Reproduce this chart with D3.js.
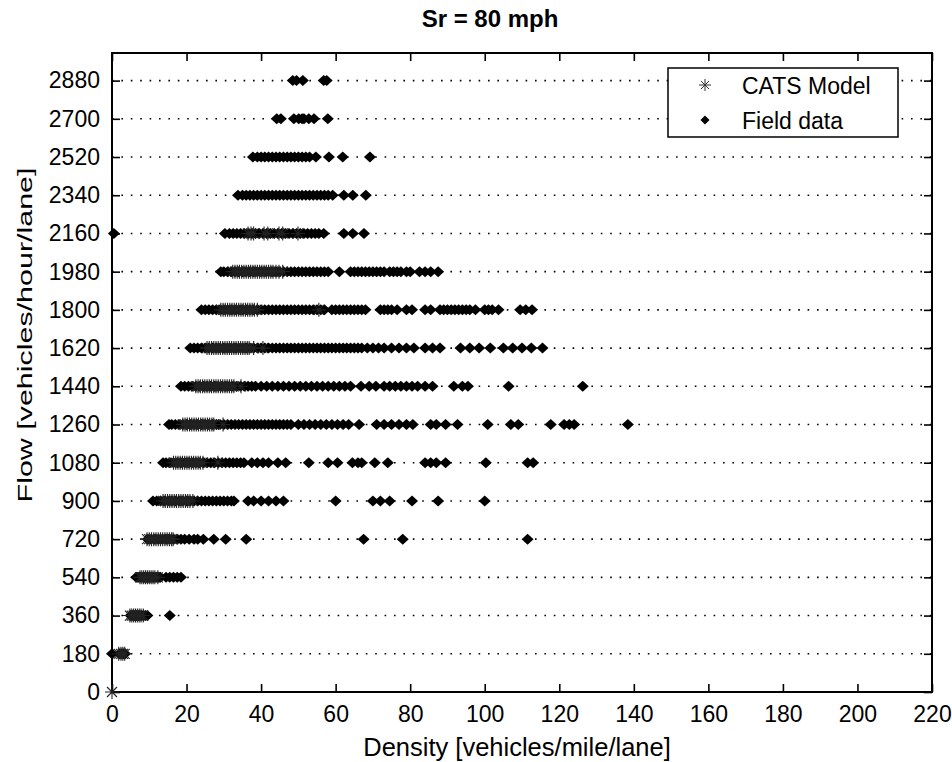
<!DOCTYPE html>
<html>
<head>
<meta charset="utf-8">
<script src="https://cdn.jsdelivr.net/npm/d3@7"></script>
<style>
  body { margin: 0; background: #fff; }
  text { font-family: "Liberation Sans", Arial, sans-serif; fill: #000; }
</style>
</head>
<body>
<svg width="952" height="762"></svg>
<script>
// flow levels (y ticks)
const flowTicks = [0, 180, 360, 540, 720, 900, 1080, 1260, 1440, 1620, 1800, 1980, 2160, 2340, 2520, 2700, 2880];
const densityTicks = [0, 20, 40, 60, 80, 100, 120, 140, 160, 180, 200, 220];

// field data densities, one array per flow level
const field180 = [0, 2, 2.5, 3, 3.5];
const field360 = [5, 5.5, 6, 6.5, 7, 7.5, 8, 8.5, 9, 9.5, 15.5];
const field540 = [6.5, 7, 7.5, 8, 8.5, 9, 9.5, 10, 10.5, 11, 11.5, 12, 12.5, 13, 14.5, 15.5, 16.5, 17.5, 18.5];
const field720 = [9.6, 10.5, 11.5, 12.5, 13.5, 14.5, 15.5, 16.5, 17.5, 18.5, 19.5, 20.7, 22, 23, 24.5, 27.3, 30.5, 36, 67.5, 78, 111.5];
const field900 = [11, 12, 13, 14, 15, 16, 17, 18, 19, 20, 21, 22, 23, 24, 25, 26, 27, 28, 29, 30, 31, 32, 32.7,
  36.5, 38, 40, 42, 44, 46, 60, 70, 72, 74.5, 80.5, 87.5, 100];
const field1080 = [13.7, 14.5, 15.5, 16.5, 17.5, 18.5, 19.5, 20.5, 21.5, 22.5, 23.5, 24.5, 25.5, 26.5, 27.5, 28.5,
  29.5, 30.5, 31.5, 32.5, 33.5, 34.5, 35.4, 37.5, 39, 40.5, 42, 44.5, 46.6, 52.8, 58, 60.5, 64.5, 66, 67,
  70.5, 74, 84, 85.5, 87, 89.5, 100.3, 111.5, 113];
const field1260 = [15.3, 16, 17, 18, 19, 20, 21, 22, 23, 24, 25, 26, 27, 28, 29, 30, 31, 32, 33, 34, 35, 36, 37,
  38, 39, 40, 41, 42, 43, 44, 45, 46, 47, 48, 50, 51.5, 53, 54.5, 56, 57.5, 59, 60.5, 62, 63.5, 66.3, 71,
  73, 75, 77, 79, 80.7, 85.5, 87, 89.5, 92.7, 100.8, 107, 109, 117.7, 121.3, 122.7, 124, 138.4];
const field1440 = [18.5, 19.5, 20.5, 21.5, 22.5, 23.5, 24.5, 25.5, 26.5, 27.5, 28.5, 29.5, 30.5, 31.5, 32.5, 33.5,
  34.5, 35.5, 36.5, 37.5, 38.5, 40, 41.5, 43, 44.5, 46, 47.5, 49, 50.5, 52, 53.5, 55, 56.5, 58, 59.5, 61, 62.5,
  64, 66.8, 69, 70.8, 73, 74.5, 76, 77.5, 79, 80.5, 82, 84, 86, 91.7, 94, 95.5, 106.4, 126.3];
const field1620 = [21, 22, 23, 24, 25, 26, 27, 28, 29, 30, 31, 32, 33, 34, 35, 36, 37, 38, 39, 40, 41, 42, 43, 44,
  45, 46, 47, 48, 49, 50, 51, 52, 53, 54, 55, 56, 57, 58, 59, 60, 61, 62, 63, 64, 65, 66, 67, 68.5, 70, 71.5,
  73, 75, 77, 79, 81, 84, 86, 88, 93.5, 96, 98.5, 101.5, 105, 107.5, 110, 112.5, 115.5];
const field1800 = [24, 25, 26, 27, 28, 29, 30, 31, 32, 33, 34, 35, 36, 37, 38, 39, 40, 41, 42, 43, 44, 45, 46,
  47, 48, 49, 50, 51, 52, 53, 54, 55, 56, 57, 59, 60, 61, 62, 63, 64, 65, 66, 67, 68, 72, 73, 74, 75, 76.5,
  79, 80.5, 84, 85.5, 88, 89, 90, 91, 92, 93, 94, 95, 96, 97.5, 100, 101, 102, 103.7, 109.5, 111, 112.7];
const field1980 = [29.2, 30, 31, 32, 33, 34, 35, 36, 37, 38, 39, 40, 41, 42, 43, 44, 45, 46, 47, 48, 49, 50, 51,
  52, 53, 54, 55, 56, 57, 58, 61, 64, 65, 66, 67, 68, 69, 70, 71, 72, 73, 74.5, 75.5, 76.5, 77.5, 79, 80,
  82.5, 84, 85.5, 87.5];
const field2160 = [0.5, 30.3, 31.5, 32.5, 33.5, 34.5, 35.5, 36.5, 37.5, 38.5, 39.5, 40.5, 41.5, 42.5, 43.5, 44.5,
  45.5, 46.5, 47.5, 48.5, 49.5, 50.5, 51.5, 52.5, 53.5, 54.5, 55.5, 56.8, 62.2, 64.6, 67.6];
const field2340 = [33.8, 35, 36, 37, 38, 39, 40, 41, 42, 43, 44, 45, 46, 47, 48, 49, 50, 51, 52, 53, 54, 55, 56,
  57, 58, 59.2, 62.2, 64.6, 68.1];
const field2520 = [37.8, 39, 40, 41, 42, 43, 44, 45, 46, 47, 48, 49, 50, 51, 52, 53, 54.7, 58.2, 61.9, 69.2];
const field2700 = [44.2, 45.3, 48.8, 50.1, 51, 51.5, 52.8, 54.2, 57.9];
const field2880 = [48.5, 49.5, 51.2, 56.8, 57.6];

// CATS model densities, one array per flow level
const cats0 = [0];
const cats180 = [1.8, 2.4, 2.9, 3.4];
const cats360 = [4.8, 5.3, 5.8, 6.3, 6.8, 7.3, 7.8, 8.4];
const cats540 = [7.5, 8, 8.5, 9, 9.5, 10, 10.5, 11, 11.5, 12.3];
const cats720 = [9.4, 10, 10.6, 11.2, 11.8, 12.4, 13, 13.6, 14.2, 14.8, 15.4, 16, 16.4];
const cats900 = [13.7, 14.3, 14.9, 15.5, 16.1, 16.7, 17.3, 17.9, 18.5, 19.1, 19.7, 20.3, 20.9, 21.7];
const cats1080 = [16.5, 17.1, 17.7, 18.3, 18.9, 19.5, 20.1, 20.7, 21.3, 21.9, 22.5, 23.1, 23.7, 24.4, 28.4];
const cats1260 = [19, 19.6, 20.2, 20.8, 21.4, 22, 22.6, 23.2, 23.8, 24.4, 25, 25.6, 26.2, 26.8, 27.3, 29.8];
const cats1440 = [22.5, 23.1, 23.7, 24.3, 24.9, 25.5, 26.1, 26.7, 27.3, 27.9, 28.5, 29.1, 29.7, 30.3, 30.9, 31.5, 32.1, 32.7, 34.6];
const cats1620 = [25.5, 26.1, 26.7, 27.3, 27.9, 28.5, 29.1, 29.7, 30.3, 30.9, 31.5, 32.1, 32.7, 33.3, 33.9, 34.5, 35.1, 35.7, 36.3, 36.8, 38, 40.5];
const cats1800 = [29.2, 29.8, 30.4, 31, 31.6, 32.2, 32.8, 33.4, 34, 34.6, 35.2, 35.8, 36.4, 37, 37.6, 38.2, 39, 55.5];
const cats1980 = [32.4, 33, 33.6, 34.2, 34.8, 35.4, 36, 36.6, 37.2, 37.8, 38.4, 39, 39.6, 40.2, 40.8, 41.4, 42, 42.6, 43.2, 44, 44.8, 45.8];
const cats2160 = [36.5, 37.3, 38, 40.8, 41.8, 44.8, 45.8, 49.9];

const fieldRows = [
  [180, field180], [360, field360], [540, field540], [720, field720], [900, field900],
  [1080, field1080], [1260, field1260], [1440, field1440], [1620, field1620], [1800, field1800],
  [1980, field1980], [2160, field2160], [2340, field2340], [2520, field2520], [2700, field2700], [2880, field2880]
];
const catsRows = [
  [0, cats0], [180, cats180], [360, cats360], [540, cats540], [720, cats720], [900, cats900],
  [1080, cats1080], [1260, cats1260], [1440, cats1440], [1620, cats1620], [1800, cats1800],
  [1980, cats1980], [2160, cats2160]
];
const fieldPts = fieldRows.flatMap(([f, ds]) => ds.map(d => ({density: d, flow: f})));
const catsPts = catsRows.flatMap(([f, ds]) => ds.map(d => ({density: d, flow: f})));

const svg = d3.select('svg');
const margin = {top: 53, right: 20, bottom: 70, left: 112};
const W = 952 - margin.left - margin.right;
const H = 762 - margin.top - margin.bottom;

const x = d3.scaleLinear().domain([0, 220]).range([0, W]);
const y = d3.scaleLinear().domain([0, 3010]).range([H, 0]);

const g = svg.append('g').attr('transform', `translate(${margin.left},${margin.top})`);

// dotted grid lines
g.append('g')
  .selectAll('line')
  .data(flowTicks)
  .join('line')
  .attr('x1', 0).attr('x2', W)
  .attr('y1', d => y(d)).attr('y2', d => y(d))
  .attr('stroke', '#000')
  .attr('stroke-width', 1.6)
  .attr('stroke-dasharray', '1.6 7.8');

// axes, ticks pointing inward like matlab
const xAxisB = g.append('g')
  .attr('transform', `translate(0,${H})`)
  .call(d3.axisBottom(x).tickValues(densityTicks).tickSizeInner(-8).tickSizeOuter(0).tickPadding(16))
  .call(a => a.select('.domain').remove());
xAxisB.selectAll('.tick text').attr('dy', '0.62em');
g.append('g')
  .call(d3.axisTop(x).tickValues(densityTicks).tickSizeInner(-8).tickSizeOuter(0).tickFormat(''))
  .call(a => a.select('.domain').remove());
g.append('g')
  .call(d3.axisLeft(y).tickValues(flowTicks).tickFormat(d3.format('d')).tickSizeInner(-8).tickSizeOuter(0).tickPadding(12))
  .call(a => a.select('.domain').remove());
g.append('g')
  .attr('transform', `translate(${W},0)`)
  .call(d3.axisRight(y).tickValues(flowTicks).tickSizeInner(-8).tickSizeOuter(0).tickFormat(''))
  .call(a => a.select('.domain').remove());

g.selectAll('.tick line').attr('stroke', '#000').attr('stroke-width', 1.6);
g.selectAll('.tick text')
  .attr('font-size', 23)
  .attr('font-family', '"Liberation Sans", Arial, sans-serif')
  .attr('fill', '#000');

// frame
g.append('rect')
  .attr('width', W).attr('height', H)
  .attr('fill', 'none').attr('stroke', '#000').attr('stroke-width', 2);

// field data diamonds
const diamond = 'M0,-5.5L6,0L0,5.5L-6,0Z';
g.append('g')
  .selectAll('path')
  .data(fieldPts)
  .join('path')
  .attr('transform', d => `translate(${x(d.density)},${y(d.flow)})`)
  .attr('d', diamond)
  .attr('fill', '#000');

// CATS model asterisks
const star = 'M-7,0H7M0,-7V7M-5,-5L5,5M-5,5L5,-5';
g.append('g')
  .selectAll('path')
  .data(catsPts)
  .join('path')
  .attr('transform', d => `translate(${x(d.density)},${y(d.flow)})`)
  .attr('d', star)
  .attr('fill', 'none')
  .attr('stroke', '#222')
  .attr('stroke-width', 1.1);

// legend
const lg = svg.append('g').attr('transform', 'translate(668,68)');
lg.append('rect').attr('width', 230).attr('height', 69)
  .attr('fill', '#fff').attr('stroke', '#000').attr('stroke-width', 1.5);
lg.append('path').attr('transform', 'translate(37,17)').attr('d', 'M-6,0H6M0,-6V6M-4,-4L4,4M-4,4L4,-4')
  .attr('stroke', '#333').attr('fill', 'none');
lg.append('path').attr('transform', 'translate(37,52)').attr('d', 'M0,-4.5L4.5,0L0,4.5L-4.5,0Z').attr('fill', '#000');
lg.append('text').attr('x', 74).attr('y', 26).attr('font-size', 23).text('CATS Model');
lg.append('text').attr('x', 74).attr('y', 61).attr('font-size', 23).text('Field data');

// titles
svg.append('text').attr('x', 490).attr('y', 27).attr('text-anchor', 'middle')
  .attr('font-size', 24).attr('font-weight', 'bold').text('Sr = 80 mph');
svg.append('text').attr('x', 517).attr('y', 756).attr('text-anchor', 'middle')
  .attr('font-size', 25.5).text('Density [vehicles/mile/lane]');
svg.append('text').attr('transform', 'translate(32,335) rotate(-90) scale(1.45,1)').attr('text-anchor', 'middle')
  .attr('font-size', 21).text('Flow [vehicles/hour/lane]');
</script>
</body>
</html>
